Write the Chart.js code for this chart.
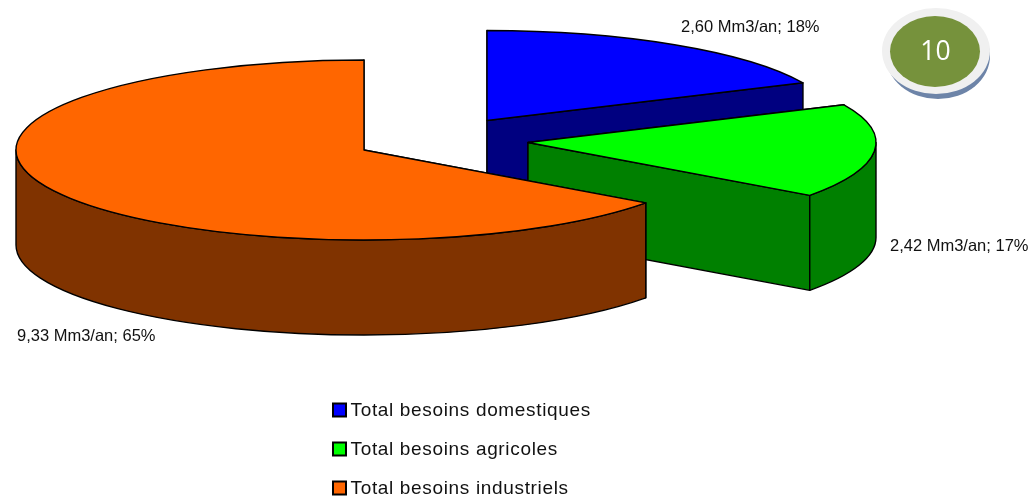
<!DOCTYPE html>
<html>
<head>
<meta charset="utf-8">
<style>
html,body{margin:0;padding:0;background:#fff;}
#wrap{position:relative;width:1029px;height:498px;}
</style>
<script src="https://cdn.jsdelivr.net/npm/chart.js@4/dist/chart.umd.min.js"></script>
</head>
<body>
<div id="wrap"><canvas id="c" width="1029" height="498"></canvas></div>
<script>
const categories = ['Total besoins domestiques', 'Total besoins agricoles', 'Total besoins industriels'];
const values = [2.60, 2.42, 9.33];
const percents = [18, 17, 65];
const unit = 'Mm3/an';
const topColors = ['#0000ff', '#00ff00', '#ff6600'];
const sideColors = ['#000080', '#008000', '#803300'];

const sliceCentres = [[487, 120.5], [528, 142.5], [364, 150]];
const labelAnchors = [[681, 27.5], [890, 246.5], [17, 336.5]];
const radiusX = 348, radiusY = 90, depth = 95;
const badgeText = '10';

function num(v) { return v.toFixed(2).replace('.', ','); }

const solid3d = {
  id: 'solid3d',
  beforeUpdate(chart) {
    chart.ctx.letterSpacing = '0.66px';
  },
  afterLayout(chart) {
    const l = chart.legend;
    l.left = 310.5; l.right = 700; l.top = 381; l.bottom = 600;
  },
  beforeDraw(chart) {
    chart.ctx.letterSpacing = '0.66px';
  },
  beforeDatasetsDraw(chart) {
    const ctx = chart.ctx, arcs = chart.getDatasetMeta(0).data;
    ctx.save();
    ctx.letterSpacing = '0px';
    ctx.lineJoin = 'round';
    ctx.strokeStyle = '#000';
    ctx.lineWidth = 1.4;
    arcs.forEach((arc, i) => {
      const [cx, cy] = sliceCentres[i];
      const a = arc.startAngle, b = arc.endAngle;
      const px = t => cx + Math.cos(t) * radiusX, py = t => cy + Math.sin(t) * radiusY;
      ctx.fillStyle = sideColors[i];
      [a, b].forEach(t => {
        ctx.beginPath();
        ctx.moveTo(cx, cy);
        ctx.lineTo(px(t), py(t));
        ctx.lineTo(px(t), py(t) + depth);
        ctx.lineTo(cx, cy + depth);
        ctx.closePath();
        ctx.fill(); ctx.stroke();
      });
      const r1 = Math.max(a, 0), r2 = Math.min(b, Math.PI);
      if (r2 > r1) {
        ctx.beginPath();
        ctx.ellipse(cx, cy, radiusX, radiusY, 0, r1, r2);
        ctx.ellipse(cx, cy + depth, radiusX, radiusY, 0, r2, r1, true);
        ctx.closePath();
        ctx.fill(); ctx.stroke();
      }
      const sx = radiusX / arc.outerRadius, sy = radiusY / arc.outerRadius;
      ctx.save();
      ctx.translate(cx, cy);
      ctx.scale(sx, sy);
      ctx.translate(-arc.x, -arc.y);
      arc.draw(ctx);
      ctx.beginPath();
      ctx.moveTo(arc.x, arc.y);
      ctx.arc(arc.x, arc.y, arc.outerRadius, a, b);
      ctx.closePath();
      ctx.restore();
      ctx.stroke();
    });
    ctx.restore();
    return false;
  },
  afterDraw(chart) {
    const ctx = chart.ctx;
    ctx.save();
    ctx.letterSpacing = '0px';
    // legend swatches, placed from the legend's own hit boxes
    ctx.strokeStyle = '#000';
    ctx.lineWidth = 2;
    chart.legend.legendHitBoxes.forEach((hb, i) => {
      const yMid = hb.top + hb.height / 2 - 0.5;
      ctx.fillStyle = topColors[i];
      ctx.fillRect(hb.left + 2.5, yMid - 6.5, 13, 13);
      ctx.strokeRect(hb.left + 2.5, yMid - 6.5, 13, 13);
    });
    ctx.fillStyle = '#111';
    ctx.font = '16.5px "Liberation Sans", Arial, sans-serif';
    ctx.textBaseline = 'middle';
    ctx.textAlign = 'left';
    values.forEach((v, i) => {
      ctx.fillText(num(v) + ' ' + unit + '; ' + percents[i] + '%', labelAnchors[i][0], labelAnchors[i][1]);
    });
    ctx.fillStyle = '#6d84a8';
    ctx.beginPath(); ctx.ellipse(938, 56, 52, 43, 0, 0, Math.PI * 2); ctx.fill();
    ctx.fillStyle = '#f0f0f0';
    ctx.beginPath(); ctx.ellipse(936, 51, 54, 43, 0, 0, Math.PI * 2); ctx.fill();
    ctx.fillStyle = '#76923c';
    ctx.beginPath(); ctx.ellipse(935, 51.5, 45, 35.5, 0, 0, Math.PI * 2); ctx.fill();
    ctx.fillStyle = '#ffffff';
    ctx.font = '26.5px "Open Sans", sans-serif';
    ctx.textAlign = 'center';
    ctx.fillText(badgeText, 935.5, 52);
    ctx.restore();
  }
};

new Chart(document.getElementById('c'), {
  type: 'pie',
  data: {
    labels: categories,
    datasets: [{ data: values, backgroundColor: topColors, borderWidth: 0 }]
  },
  plugins: [solid3d],
  options: {
    responsive: false,
    animation: false,
    events: [],
    plugins: {
      tooltip: { enabled: false },
      legend: {
        position: 'right',
        align: 'start',
        labels: {
          color: '#111',
          font: { family: '"Liberation Sans", Arial, sans-serif', size: 19 },
          boxWidth: 10.5,
          boxHeight: 10.5,
          padding: 20,
          generateLabels(chart) {
            return categories.map((t, i) => ({
              text: t, fillStyle: 'rgba(0,0,0,0)', strokeStyle: 'rgba(0,0,0,0)', lineWidth: 0,
              fontColor: '#111', hidden: false, index: i
            }));
          }
        }
      }
    }
  }
});
</script>
</body>
</html>
